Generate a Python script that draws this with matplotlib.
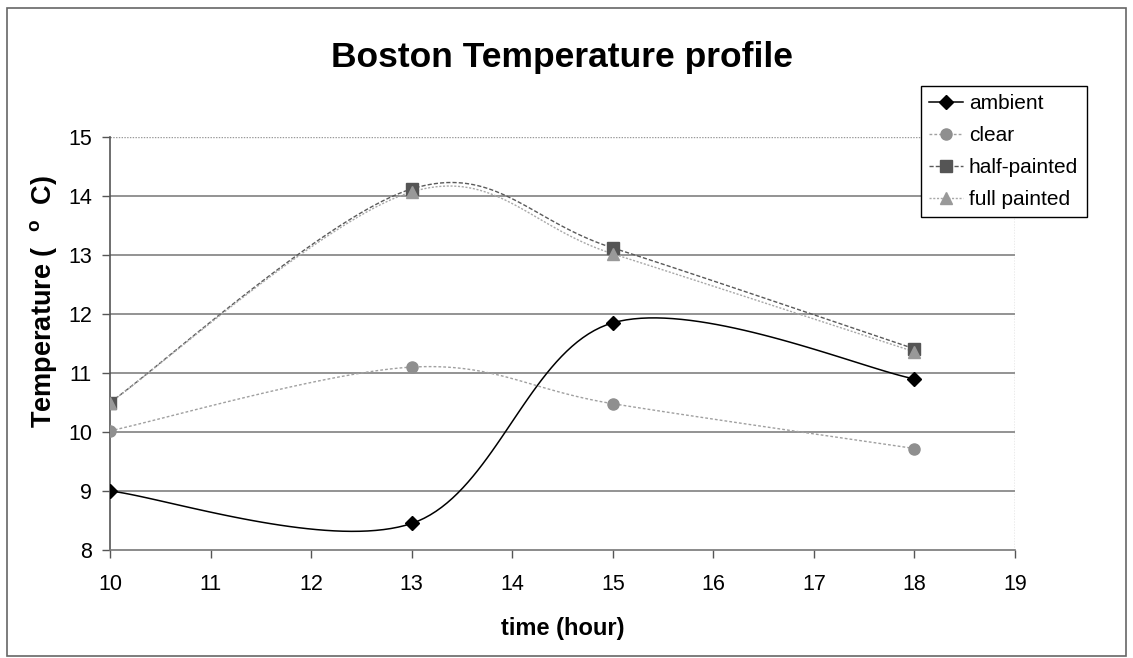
import numpy as np
import matplotlib
matplotlib.use("Agg")
import matplotlib.pyplot as plt
from matplotlib.patches import Rectangle

hours = [10, 13, 15, 18]
ambient = [9.0, 8.45, 11.85, 10.9]
clear = [10.02, 11.1, 10.48, 9.72]
half_painted = [10.5, 14.12, 13.12, 11.41]
full_painted = [10.5, 14.07, 13.02, 11.36]
series_names = ["ambient", "clear", "half-painted", "full painted"]
x_ticks = list(range(10, 20))
y_ticks = list(range(8, 16))

plt.rcParams['font.family'] = ['Liberation Sans', 'DejaVu Sans']
plt.rcParams['mathtext.fontset'] = 'custom'
plt.rcParams['mathtext.rm'] = 'Liberation Sans:bold'
plt.rcParams['mathtext.bf'] = 'Liberation Sans:bold'


def smooth(xs, ys, n=40):
    """Excel-like smoothed line (Catmull-Rom Bezier) through the data points."""
    P = np.column_stack([xs, ys]).astype(float)
    out = [P[0]]
    for i in range(len(P) - 1):
        p0 = P[i - 1] if i > 0 else P[i]
        p1, p2 = P[i], P[i + 1]
        p3 = P[i + 2] if i + 2 < len(P) else P[i + 1]
        c1 = p1 + (p2 - p0) / 6.0
        c2 = p2 - (p3 - p1) / 6.0
        t = np.linspace(0, 1, n)[1:, None]
        seg = ((1 - t) ** 3) * p1 + 3 * ((1 - t) ** 2) * t * c1 + 3 * (1 - t) * t ** 2 * c2 + t ** 3 * p2
        out.extend(seg)
    out = np.array(out)
    return out[:, 0], out[:, 1]


fig = plt.figure(figsize=(11.33, 6.58), dpi=100)
ax = fig.add_axes([110 / 1133, 1 - 550 / 658, (1015 - 110) / 1133, (550 - 137) / 658])

# outer chart frame
fig.patches.append(Rectangle((7 / 1133, 2 / 658), 1119 / 1133, 648 / 658, transform=fig.transFigure,
                             fill=False, edgecolor='#666666', linewidth=1.2))

styles = [
    dict(data=ambient, color='black', ls='-', marker='D', mc='black', ms=7, lw=1.1),
    dict(data=clear, color='#a0a0a0', ls=(0, (2, 1.5)), marker='o', mc='#8f8f8f', ms=8, lw=1.0),
    dict(data=half_painted, color='#5a5a5a', ls=(0, (3, 1.5)), marker='s', mc='#555555', ms=8, lw=1.0),
    dict(data=full_painted, color='#a8a8a8', ls=(0, (1.5, 1.2)), marker='^', mc='#999999', ms=8, lw=1.0),
]

handles = []
for name, st in zip(series_names, styles):
    sx, sy = smooth(hours, st['data'])
    ax.plot(sx, sy, color=st['color'], ls=st['ls'], lw=st['lw'], zorder=3)
    ax.plot(hours, st['data'], ls='none', marker=st['marker'], ms=st['ms'],
            mfc=st['mc'], mec=st['mc'], zorder=4)
    h, = ax.plot([], [], color=st['color'], ls=st['ls'], lw=st['lw'], marker=st['marker'],
                 ms=st['ms'], mfc=st['mc'], mec=st['mc'], label=name)
    handles.append(h)

ax.set_xlim(10, 19)
ax.set_ylim(8, 15)
ax.set_xticks(x_ticks)
ax.set_yticks(y_ticks)
ax.tick_params(axis='both', labelsize=15.5, length=6, width=1, color='#555555', direction='out')
ax.tick_params(axis='y', pad=7)
ax.tick_params(axis='x', pad=11)

for y in y_ticks[1:-1]:
    ax.axhline(y, color='#808080', lw=1.2, zorder=1)
ax.axhline(15, color='#999999', lw=1.0, ls=(0, (1, 1)), zorder=1)

for side in ['top', 'right']:
    ax.spines[side].set_visible(False)
ax.axvline(19, color='#999999', lw=1.0, ls=(0, (1, 1)), zorder=1)
ax.spines['left'].set_color('#555555')
ax.spines['bottom'].set_color('#777777')
ax.spines['left'].set_linewidth(1.2)
ax.spines['bottom'].set_linewidth(1.2)

ax.set_xlabel('time (hour)', fontsize=17, fontweight='bold', labelpad=16)
fig.text(44 / 1133, 1 - 302 / 658, r'Temperature (  $^{\mathrm{o}}$  C)', rotation=90,
         ha='center', va='center', fontsize=19.5, fontweight='bold')
fig.text(562 / 1133, 1 - 57 / 658, 'Boston Temperature profile', ha='center', va='center',
         fontsize=25.5, fontweight='bold')

leg = fig.legend(handles=handles, loc='upper left', bbox_to_anchor=(921 / 1133, 1 - 86 / 658),
                 fontsize=15, frameon=True, fancybox=False, framealpha=1, edgecolor='black',
                 handlelength=1.6, labelspacing=0.62, borderpad=0.4, handletextpad=0.3,
                 borderaxespad=0)
leg.get_frame().set_linewidth(1.0)

fig.savefig('out.png', dpi=100)
